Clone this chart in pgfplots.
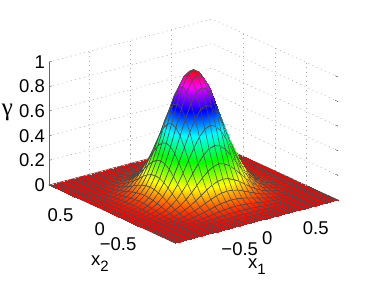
\documentclass[border=0pt]{standalone}
\usepackage{pgfplots}
\pgfplotsset{compat=1.18}
\usepackage{fontspec}
\setmainfont{Liberation Sans}
\newfontfamily\gammafont{Liberation Serif}
\pgfplotsset{colormap={hsv}{rgb=(1,0,0) rgb=(1,1,0) rgb=(0,1,0) rgb=(0,1,1) rgb=(0,0,1) rgb=(1,0,1) rgb=(1,0,0)}}
\begin{document}
\begin{tikzpicture}[x=1pt,y=1pt]
\useasboundingbox (0,0) rectangle (374,281);
\begin{axis}[
  anchor=origin, at={(193.5pt,88.5pt)},
  x={(81.5pt,21.5pt)}, y={(-63pt,29pt)}, z={(0pt,123pt)},
  xmin=-1,xmax=1,ymin=-1,ymax=1,zmin=0,zmax=1,
  clip=false,
  font=\fontsize{18.5}{20}\selectfont,
  xtick={-0.5,0,0.5}, ytick={-0.5,0,0.5}, ztick={0,0.2,0.4,0.6,0.8,1},
  xticklabels={−0.5,0,0.5}, yticklabels={−0.5,0,0.5}, zticklabels={0,0.2,0.4,0.6,0.8,1},
  xticklabel style={anchor=west,inner sep=0pt,xshift=5.5pt,yshift=-17pt},
  yticklabel style={anchor=east,inner sep=0pt,xshift=-7pt,yshift=-15.5pt},
  zticklabel style={anchor=east,inner sep=0pt,xshift=-4pt},
  axis line style={draw=none},
  grid=major,
  major grid style={gray!60,line width=0.55pt,dash pattern=on 1.1pt off 3.4pt},
  major tick length=3pt, tick align=inside,
  xtick style={draw=none}, ytick style={draw=none},
  ztick style={black!70,line width=0.4pt},
  ztick pos=left,
  xlabel={x\raisebox{-6pt}{\fontsize{15}{15}\selectfont 1}},
  ylabel={x\raisebox{-6pt}{\fontsize{15}{15}\selectfont 2}},
  zlabel={{\gammafont\fontsize{25}{25}\selectfont γ}},
  every axis x label/.style={at={(axis cs:0,-1,0)},anchor=center,xshift=0.5pt,yshift=-45pt},
  every axis y label/.style={at={(axis cs:-1,0,0)},anchor=center,xshift=-12pt,yshift=-50pt},
  every axis z label/.style={at={(axis cs:-1,1,0.6)},anchor=center,xshift=-41.5pt,yshift=-1pt},
  colormap name=hsv, point meta min=0, point meta max=1,
]
\addplot3[surf,shader=faceted interp,faceted color=black!70,line width=0.5pt,
  z buffer=sort,mesh/rows=31,mesh/cols=31,point meta=explicit]
  table[header=false,row sep=crcr,x expr={mod(\coordindex,31)/15-1},y expr={floor(\coordindex/31)/15-1},z index=0,
  meta expr={\thisrowno{0}<0.9 ? 0.925*\thisrowno{0} : 0.8325+1.675*(\thisrowno{0}-0.9)}]{
0\\0\\0\\0\\0\\0\\0\\0\\0\\0\\0\\.001\\.001\\.001\\.001\\.001\\.001\\.001\\.001\\.001\\0\\0\\0\\0\\0\\0\\0\\0\\0\\0\\0\\
0\\0\\0\\0\\0\\0\\0\\0\\0\\.001\\.001\\.001\\.002\\.002\\.002\\.002\\.002\\.002\\.002\\.001\\.001\\.001\\0\\0\\0\\0\\0\\0\\0\\0\\0\\
0\\0\\0\\0\\0\\0\\0\\.001\\.001\\.002\\.002\\.003\\.004\\.005\\.005\\.005\\.005\\.005\\.004\\.003\\.002\\.002\\.001\\.001\\0\\0\\0\\0\\0\\0\\0\\
0\\0\\0\\0\\0\\.001\\.001\\.002\\.002\\.004\\.005\\.007\\.009\\.01\\.011\\.011\\.011\\.01\\.009\\.007\\.005\\.004\\.002\\.002\\.001\\.001\\0\\0\\0\\0\\0\\
0\\0\\0\\0\\.001\\.001\\.002\\.003\\.005\\.008\\.011\\.014\\.018\\.02\\.022\\.023\\.022\\.02\\.018\\.014\\.011\\.008\\.005\\.003\\.002\\.001\\.001\\0\\0\\0\\0\\
0\\0\\0\\.001\\.001\\.002\\.004\\.006\\.01\\.015\\.02\\.027\\.034\\.039\\.043\\.045\\.043\\.039\\.034\\.027\\.02\\.015\\.01\\.006\\.004\\.002\\.001\\.001\\0\\0\\0\\
0\\0\\0\\.001\\.002\\.004\\.006\\.011\\.018\\.026\\.037\\.049\\.061\\.071\\.078\\.081\\.078\\.071\\.061\\.049\\.037\\.026\\.018\\.011\\.006\\.004\\.002\\.001\\0\\0\\0\\
0\\0\\.001\\.002\\.003\\.006\\.011\\.019\\.03\\.045\\.063\\.083\\.103\\.121\\.132\\.137\\.132\\.121\\.103\\.083\\.063\\.045\\.03\\.019\\.011\\.006\\.003\\.002\\.001\\0\\0\\
0\\0\\.001\\.002\\.005\\.01\\.018\\.03\\.047\\.071\\.1\\.132\\.165\\.192\\.211\\.218\\.211\\.192\\.165\\.132\\.1\\.071\\.047\\.03\\.018\\.01\\.005\\.002\\.001\\0\\0\\
0\\.001\\.002\\.004\\.008\\.015\\.026\\.045\\.071\\.106\\.15\\.198\\.247\\.288\\.316\\.326\\.316\\.288\\.247\\.198\\.15\\.106\\.071\\.045\\.026\\.015\\.008\\.004\\.002\\.001\\0\\
0\\.001\\.002\\.005\\.011\\.02\\.037\\.063\\.1\\.15\\.211\\.279\\.347\\.406\\.445\\.459\\.445\\.406\\.347\\.279\\.211\\.15\\.1\\.063\\.037\\.02\\.011\\.005\\.002\\.001\\0\\
.001\\.001\\.003\\.007\\.014\\.027\\.049\\.083\\.132\\.198\\.279\\.37\\.459\\.537\\.589\\.608\\.589\\.537\\.459\\.37\\.279\\.198\\.132\\.083\\.049\\.027\\.014\\.007\\.003\\.001\\.001\\
.001\\.002\\.004\\.009\\.018\\.034\\.061\\.103\\.165\\.247\\.347\\.459\\.571\\.667\\.733\\.756\\.733\\.667\\.571\\.459\\.347\\.247\\.165\\.103\\.061\\.034\\.018\\.009\\.004\\.002\\.001\\
.001\\.002\\.005\\.01\\.02\\.039\\.071\\.121\\.192\\.288\\.406\\.537\\.667\\.78\\.856\\.883\\.856\\.78\\.667\\.537\\.406\\.288\\.192\\.121\\.071\\.039\\.02\\.01\\.005\\.002\\.001\\
.001\\.002\\.005\\.011\\.022\\.043\\.078\\.132\\.211\\.316\\.445\\.589\\.733\\.856\\.94\\.969\\.94\\.856\\.733\\.589\\.445\\.316\\.211\\.132\\.078\\.043\\.022\\.011\\.005\\.002\\.001\\
.001\\.002\\.005\\.011\\.023\\.045\\.081\\.137\\.218\\.326\\.459\\.608\\.756\\.883\\.969\\1\\.969\\.883\\.756\\.608\\.459\\.326\\.218\\.137\\.081\\.045\\.023\\.011\\.005\\.002\\.001\\
.001\\.002\\.005\\.011\\.022\\.043\\.078\\.132\\.211\\.316\\.445\\.589\\.733\\.856\\.94\\.969\\.94\\.856\\.733\\.589\\.445\\.316\\.211\\.132\\.078\\.043\\.022\\.011\\.005\\.002\\.001\\
.001\\.002\\.005\\.01\\.02\\.039\\.071\\.121\\.192\\.288\\.406\\.537\\.667\\.78\\.856\\.883\\.856\\.78\\.667\\.537\\.406\\.288\\.192\\.121\\.071\\.039\\.02\\.01\\.005\\.002\\.001\\
.001\\.002\\.004\\.009\\.018\\.034\\.061\\.103\\.165\\.247\\.347\\.459\\.571\\.667\\.733\\.756\\.733\\.667\\.571\\.459\\.347\\.247\\.165\\.103\\.061\\.034\\.018\\.009\\.004\\.002\\.001\\
.001\\.001\\.003\\.007\\.014\\.027\\.049\\.083\\.132\\.198\\.279\\.37\\.459\\.537\\.589\\.608\\.589\\.537\\.459\\.37\\.279\\.198\\.132\\.083\\.049\\.027\\.014\\.007\\.003\\.001\\.001\\
0\\.001\\.002\\.005\\.011\\.02\\.037\\.063\\.1\\.15\\.211\\.279\\.347\\.406\\.445\\.459\\.445\\.406\\.347\\.279\\.211\\.15\\.1\\.063\\.037\\.02\\.011\\.005\\.002\\.001\\0\\
0\\.001\\.002\\.004\\.008\\.015\\.026\\.045\\.071\\.106\\.15\\.198\\.247\\.288\\.316\\.326\\.316\\.288\\.247\\.198\\.15\\.106\\.071\\.045\\.026\\.015\\.008\\.004\\.002\\.001\\0\\
0\\0\\.001\\.002\\.005\\.01\\.018\\.03\\.047\\.071\\.1\\.132\\.165\\.192\\.211\\.218\\.211\\.192\\.165\\.132\\.1\\.071\\.047\\.03\\.018\\.01\\.005\\.002\\.001\\0\\0\\
0\\0\\.001\\.002\\.003\\.006\\.011\\.019\\.03\\.045\\.063\\.083\\.103\\.121\\.132\\.137\\.132\\.121\\.103\\.083\\.063\\.045\\.03\\.019\\.011\\.006\\.003\\.002\\.001\\0\\0\\
0\\0\\0\\.001\\.002\\.004\\.006\\.011\\.018\\.026\\.037\\.049\\.061\\.071\\.078\\.081\\.078\\.071\\.061\\.049\\.037\\.026\\.018\\.011\\.006\\.004\\.002\\.001\\0\\0\\0\\
0\\0\\0\\.001\\.001\\.002\\.004\\.006\\.01\\.015\\.02\\.027\\.034\\.039\\.043\\.045\\.043\\.039\\.034\\.027\\.02\\.015\\.01\\.006\\.004\\.002\\.001\\.001\\0\\0\\0\\
0\\0\\0\\0\\.001\\.001\\.002\\.003\\.005\\.008\\.011\\.014\\.018\\.02\\.022\\.023\\.022\\.02\\.018\\.014\\.011\\.008\\.005\\.003\\.002\\.001\\.001\\0\\0\\0\\0\\
0\\0\\0\\0\\0\\.001\\.001\\.002\\.002\\.004\\.005\\.007\\.009\\.01\\.011\\.011\\.011\\.01\\.009\\.007\\.005\\.004\\.002\\.002\\.001\\.001\\0\\0\\0\\0\\0\\
0\\0\\0\\0\\0\\0\\0\\.001\\.001\\.002\\.002\\.003\\.004\\.005\\.005\\.005\\.005\\.005\\.004\\.003\\.002\\.002\\.001\\.001\\0\\0\\0\\0\\0\\0\\0\\
0\\0\\0\\0\\0\\0\\0\\0\\0\\.001\\.001\\.001\\.002\\.002\\.002\\.002\\.002\\.002\\.002\\.001\\.001\\.001\\0\\0\\0\\0\\0\\0\\0\\0\\0\\
0\\0\\0\\0\\0\\0\\0\\0\\0\\0\\0\\.001\\.001\\.001\\.001\\.001\\.001\\.001\\.001\\.001\\0\\0\\0\\0\\0\\0\\0\\0\\0\\0\\0\\
};
\draw[black!60,line width=0.5pt] (axis cs:-1,1,0) -- (axis cs:-1,1,1);
\end{axis}
\end{tikzpicture}
\end{document}
